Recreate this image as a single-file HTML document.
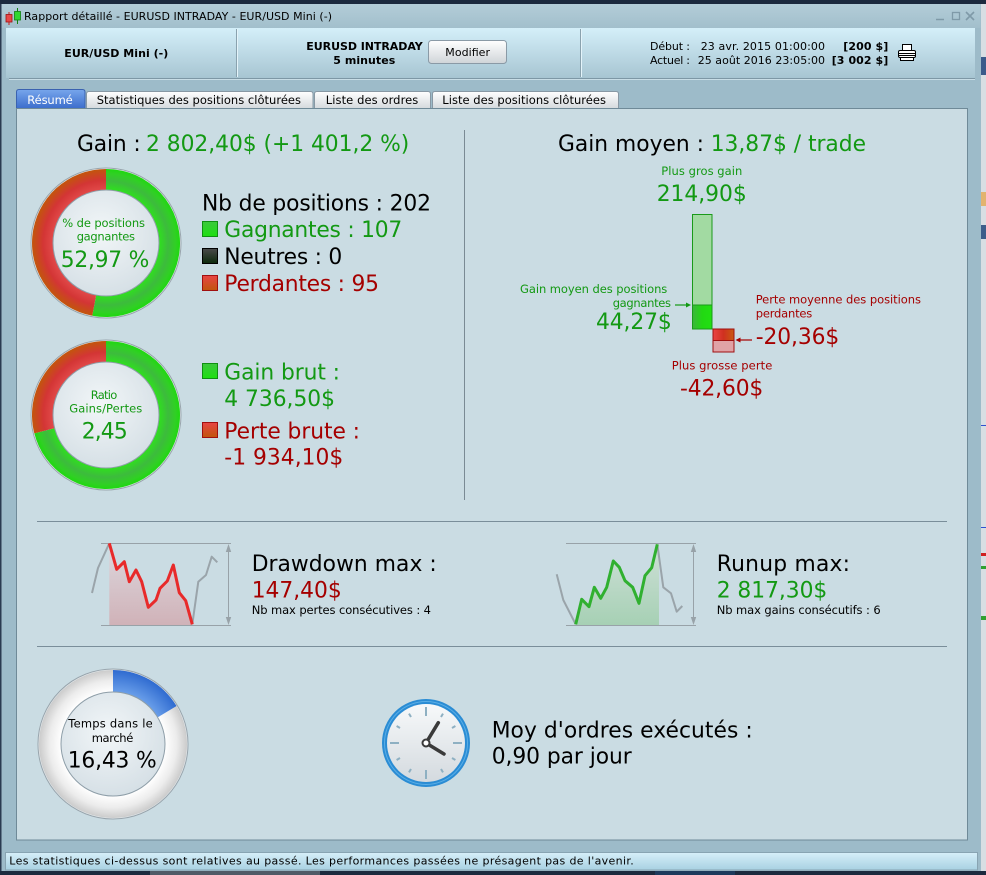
<!DOCTYPE html>
<html><head><meta charset="utf-8"><style>
html,body{margin:0;padding:0;background:#1c2a3e;overflow:hidden;}
svg{display:block;}
text{font-family:"DejaVu Sans","Liberation Sans",sans-serif;}
</style></head><body>
<svg width="986" height="875" viewBox="0 0 986 875" xmlns="http://www.w3.org/2000/svg">
<defs>
<linearGradient id="hdr" x1="0" y1="0" x2="0" y2="1"><stop offset="0" stop-color="#d4eff9"/><stop offset="1" stop-color="#a7c5d2"/></linearGradient>
<linearGradient id="ttl" x1="0" y1="0" x2="0" y2="1"><stop offset="0" stop-color="#b3cdd8"/><stop offset="1" stop-color="#a2bfcc"/></linearGradient>
<linearGradient id="stat" x1="0" y1="0" x2="0" y2="1"><stop offset="0" stop-color="#d6eff9"/><stop offset="1" stop-color="#a8d1e2"/></linearGradient>
<linearGradient id="tab" x1="0" y1="0" x2="0" y2="1"><stop offset="0" stop-color="#ffffff"/><stop offset="1" stop-color="#d3d8dc"/></linearGradient>
<linearGradient id="tabsel" x1="0" y1="0" x2="0" y2="1"><stop offset="0" stop-color="#77a6ec"/><stop offset="1" stop-color="#3a6bcb"/></linearGradient>
<linearGradient id="btn" x1="0" y1="0" x2="0" y2="1"><stop offset="0" stop-color="#ffffff"/><stop offset="1" stop-color="#cfd4d8"/></linearGradient>
<radialGradient id="gRing" cx="0" cy="0" r="74" gradientUnits="userSpaceOnUse"><stop offset="0.71" stop-color="#2ee21c"/><stop offset="0.84" stop-color="#3dbb3d"/><stop offset="0.94" stop-color="#30d024"/><stop offset="1" stop-color="#1fd810"/></radialGradient>
<radialGradient id="rRing" cx="0" cy="0" r="74" gradientUnits="userSpaceOnUse"><stop offset="0.71" stop-color="#e24a4a"/><stop offset="0.85" stop-color="#d33535"/><stop offset="1" stop-color="#c2560c"/></radialGradient>
<radialGradient id="wRing" cx="0" cy="0" r="74" gradientUnits="userSpaceOnUse"><stop offset="0.70" stop-color="#ffffff"/><stop offset="0.86" stop-color="#ececec"/><stop offset="1" stop-color="#cbcbcb"/></radialGradient>
<radialGradient id="bRing" cx="0" cy="0" r="74" gradientUnits="userSpaceOnUse"><stop offset="0.70" stop-color="#6a9fea"/><stop offset="1" stop-color="#2f6bd0"/></radialGradient>
<radialGradient id="disk" cx="0.45" cy="0.4" r="0.6"><stop offset="0" stop-color="#f2f6f8"/><stop offset="1" stop-color="#d6e0e6"/></radialGradient>
<linearGradient id="face" x1="0" y1="0" x2="0" y2="1"><stop offset="0" stop-color="#f7f9fa"/><stop offset="1" stop-color="#d4dadf"/></linearGradient>
<linearGradient id="ddFill" x1="0" y1="0" x2="0" y2="1"><stop offset="0" stop-color="#dcd8de"/><stop offset="1" stop-color="#d0b2b8"/></linearGradient>
<linearGradient id="ruFill" x1="0" y1="0" x2="0" y2="1"><stop offset="0" stop-color="#cfe0d8"/><stop offset="1" stop-color="#a6d0b4"/></linearGradient>
<linearGradient id="barG" x1="0" y1="0" x2="1" y2="0"><stop offset="0" stop-color="#3cb53c"/><stop offset="0.5" stop-color="#22d812"/><stop offset="1" stop-color="#22e011"/></linearGradient>
<linearGradient id="barR" x1="0" y1="0" x2="1" y2="0"><stop offset="0" stop-color="#ea4444"/><stop offset="0.5" stop-color="#d03020"/><stop offset="1" stop-color="#c85a10"/></linearGradient>
<linearGradient id="sqG" x1="0" y1="0" x2="0" y2="1"><stop offset="0" stop-color="#3cc83c"/><stop offset="1" stop-color="#1ee010"/></linearGradient>
<linearGradient id="sqN" x1="0" y1="0" x2="0" y2="1"><stop offset="0" stop-color="#4a4a4a"/><stop offset="1" stop-color="#0c2a0c"/></linearGradient>
<linearGradient id="sqR" x1="0" y1="0" x2="0" y2="1"><stop offset="0" stop-color="#e84444"/><stop offset="1" stop-color="#c0560c"/></linearGradient>
</defs>

<!-- background -->
<rect x="0" y="0" width="986" height="875" fill="#1c2a3e"/>
<rect x="981" y="4" width="5" height="867" fill="#d8dee3"/>
<rect x="981" y="57" width="5" height="18" fill="#3a5a8a"/>
<rect x="981" y="192" width="5" height="14" fill="#e2b36e"/>
<rect x="981" y="225" width="5" height="14" fill="#3d5d8a"/>
<rect x="981" y="425" width="5" height="1" fill="#3050d0"/>
<rect x="981" y="527" width="5" height="1" fill="#3050d0"/>
<rect x="981" y="553" width="5" height="3" fill="#d02020"/>
<rect x="981" y="566" width="5" height="3" fill="#30a030"/>
<rect x="981" y="616" width="5" height="4" fill="#30a030"/>

<!-- window -->
<rect x="1" y="4" width="980" height="867" fill="#9dbbc9"/>
<rect x="0" y="4" width="1.5" height="867" fill="#2a3a50"/>
<rect x="1.5" y="4" width="979" height="24" fill="url(#ttl)"/>
<!-- title icon -->
<line x1="9" y1="12" x2="9" y2="25" stroke="#c02020" stroke-width="1"/>
<rect x="6" y="14.5" width="6" height="7.5" fill="#e84848" stroke="#a01010" stroke-width="0.8"/>
<line x1="17.5" y1="8" x2="17.5" y2="24" stroke="#108010" stroke-width="1"/>
<rect x="14.5" y="11.5" width="6" height="8.5" fill="#30d830" stroke="#108010" stroke-width="0.8"/>
<text x="24" y="20" font-size="11" fill="#000" textLength="308" lengthAdjust="spacing">Rapport détaillé - EURUSD INTRADAY - EUR/USD Mini (-)</text>
<!-- window buttons -->
<line x1="936" y1="19.5" x2="944" y2="19.5" stroke="#7f9aa8" stroke-width="1.5"/>
<rect x="952.5" y="12.5" width="7" height="7" fill="none" stroke="#7f9aa8" stroke-width="1.3"/>
<path d="M966,12 L974,20 M974,12 L966,20" stroke="#7f9aa8" stroke-width="1.6"/>

<!-- header -->
<rect x="6" y="28" width="969" height="50" fill="url(#hdr)"/>
<line x1="236.5" y1="29" x2="236.5" y2="77" stroke="#8aa2ae"/>
<line x1="237.5" y1="29" x2="237.5" y2="77" stroke="#e4f4fa"/>
<line x1="580.5" y1="29" x2="580.5" y2="77" stroke="#8aa2ae"/>
<line x1="581.5" y1="29" x2="581.5" y2="77" stroke="#e4f4fa"/>
<line x1="9" y1="78.5" x2="975" y2="78.5" stroke="#7d97a5"/>
<line x1="9" y1="79.5" x2="975" y2="79.5" stroke="#c8dde6"/>
<text x="64.3" y="57" font-size="11" font-weight="bold" textLength="104" lengthAdjust="spacing">EUR/USD Mini (-)</text>
<text x="306.3" y="50" font-size="11" font-weight="bold" textLength="116.4" lengthAdjust="spacing">EURUSD INTRADAY</text>
<text x="333.3" y="64" font-size="11" font-weight="bold" textLength="62" lengthAdjust="spacing">5 minutes</text>
<rect x="428.5" y="40.5" width="78" height="23" rx="3" fill="url(#btn)" stroke="#8a9aa6"/>
<text x="445.3" y="56" font-size="11" textLength="44.7" lengthAdjust="spacing">Modifier</text>
<text x="650" y="50" font-size="11" textLength="40" lengthAdjust="spacing">Début :</text>
<text x="700.7" y="50" font-size="11" textLength="124.3" lengthAdjust="spacing">23 avr. 2015 01:00:00</text>
<text x="843.3" y="50" font-size="11" font-weight="bold" textLength="45" lengthAdjust="spacing">[200 $]</text>
<text x="650" y="64" font-size="11" textLength="40" lengthAdjust="spacing">Actuel :</text>
<text x="697.7" y="64" font-size="11" textLength="127.3" lengthAdjust="spacing">25 août 2016 23:05:00</text>
<text x="831.7" y="64" font-size="11" font-weight="bold" textLength="56.6" lengthAdjust="spacing">[3 002 $]</text>
<!-- printer -->
<rect x="902.5" y="44.5" width="9" height="6" fill="#fff" stroke="#000"/>
<rect x="898.5" y="50.5" width="17" height="7" rx="1.5" fill="#fff" stroke="#000"/>
<line x1="899" y1="53.5" x2="915" y2="53.5" stroke="#000"/>
<line x1="899" y1="55.5" x2="915" y2="55.5" stroke="#000"/>
<rect x="900.5" y="57.5" width="13" height="3" fill="#fff" stroke="#000"/>

<!-- tabs -->
<path d="M86.5,109 L86.5,94 Q86.5,91.5 89,91.5 L310.5,91.5 Q313,91.5 313,94 L313,109" fill="url(#tab)" stroke="#8898a4"/>
<path d="M314.5,109 L314.5,94 Q314.5,91.5 317,91.5 L428,91.5 Q430.5,91.5 430.5,94 L430.5,109" fill="url(#tab)" stroke="#8898a4"/>
<path d="M432.5,109 L432.5,94 Q432.5,91.5 435,91.5 L616,91.5 Q618.5,91.5 618.5,94 L618.5,109" fill="url(#tab)" stroke="#8898a4"/>
<path d="M16.5,109 L16.5,92 Q16.5,89.5 19,89.5 L82.5,89.5 Q85,89.5 85,92 L85,109" fill="url(#tabsel)" stroke="#3a62b0"/>
<text x="27.3" y="104" font-size="11.5" fill="#fff" textLength="45.4" lengthAdjust="spacing">Résumé</text>
<text x="96.7" y="104" font-size="11.5" textLength="204.3" lengthAdjust="spacing">Statistiques des positions clôturées</text>
<text x="325.7" y="104" font-size="11.5" textLength="92.6" lengthAdjust="spacing">Liste des ordres</text>
<text x="442.3" y="104" font-size="11.5" textLength="163.7" lengthAdjust="spacing">Liste des positions clôturées</text>

<!-- content panel -->
<rect x="16.5" y="108.5" width="951" height="731.5" fill="#cadce3" stroke="#6f8a98"/>
<line x1="464.5" y1="130" x2="464.5" y2="500" stroke="#7a8a94"/>
<line x1="37" y1="521.5" x2="947" y2="521.5" stroke="#7a8e9a"/>
<line x1="37" y1="646.5" x2="947" y2="646.5" stroke="#7a8e9a"/>

<!-- Gain headline -->
<text x="77" y="151" font-size="21.8" fill="#000" textLength="63.7" lengthAdjust="spacing">Gain :</text>
<text x="146" y="151" font-size="21.8" fill="#139913" textLength="263.3" lengthAdjust="spacing">2 802,40$ (+1 401,2 %)</text>

<!-- donut 1 -->
<g transform="translate(106,243)">
<circle r="75" fill="#e8eef1" stroke="#98a4ac"/>
<path d="M0,-74 A74,74 0 1 1 -13.74,72.71 L-9.84,52.08 A53,53 0 1 0 0,-53 Z" fill="url(#gRing)"/>
<path d="M-13.74,72.71 A74,74 0 0 1 0,-74 L0,-53 A53,53 0 0 0 -9.84,52.08 Z" fill="url(#rRing)"/>
<circle r="53" fill="url(#disk)" stroke="#8e9ea8"/>
</g>
<text x="62.3" y="227" font-size="11.5" fill="#139913" textLength="82.7" lengthAdjust="spacing">% de positions</text>
<text x="76.7" y="240.5" font-size="11.5" fill="#139913" textLength="58.3" lengthAdjust="spacing">gagnantes</text>
<text x="60.7" y="267" font-size="21.8" fill="#139913" textLength="88.6" lengthAdjust="spacing">52,97 %</text>

<!-- legend 1 -->
<text x="202" y="210.5" font-size="21.8" fill="#000" textLength="229" lengthAdjust="spacing">Nb de positions : 202</text>
<rect x="202.5" y="221.5" width="15" height="15" fill="url(#sqG)" stroke="#109010"/>
<text x="224.3" y="237" font-size="21.8" fill="#139913" textLength="178" lengthAdjust="spacing">Gagnantes : 107</text>
<rect x="202.5" y="248.5" width="15" height="15" fill="url(#sqN)" stroke="#000"/>
<text x="224.3" y="264" font-size="21.8" fill="#000" textLength="118" lengthAdjust="spacing">Neutres : 0</text>
<rect x="202.5" y="275.5" width="15" height="15" fill="url(#sqR)" stroke="#a01010"/>
<text x="224.3" y="291" font-size="21.8" fill="#a50000" textLength="154.7" lengthAdjust="spacing">Perdantes : 95</text>

<!-- donut 2 -->
<g transform="translate(106,415)">
<circle r="75" fill="#e8eef1" stroke="#98a4ac"/>
<path d="M0,-74 A74,74 0 1 1 -71.68,18.40 L-51.34,13.18 A53,53 0 1 0 0,-53 Z" fill="url(#gRing)"/>
<path d="M-71.68,18.40 A74,74 0 0 1 0,-74 L0,-53 A53,53 0 0 0 -51.34,13.18 Z" fill="url(#rRing)"/>
<circle r="53" fill="url(#disk)" stroke="#8e9ea8"/>
</g>
<text x="90.7" y="399" font-size="11.5" fill="#139913" textLength="26.6" lengthAdjust="spacing">Ratio</text>
<text x="69.3" y="412.5" font-size="11.5" fill="#139913" textLength="73" lengthAdjust="spacing">Gains/Pertes</text>
<text x="81.7" y="438.5" font-size="21.8" fill="#139913" textLength="46" lengthAdjust="spacing">2,45</text>

<rect x="202.5" y="363.5" width="15" height="15" fill="url(#sqG)" stroke="#109010"/>
<text x="224.3" y="379.5" font-size="21.8" fill="#139913" textLength="115.7" lengthAdjust="spacing">Gain brut :</text>
<text x="224.3" y="406" font-size="21.8" fill="#139913" textLength="110.7" lengthAdjust="spacing">4 736,50$</text>
<rect x="202.5" y="422.5" width="15" height="15" fill="url(#sqR)" stroke="#a01010"/>
<text x="224.3" y="438.5" font-size="21.8" fill="#a50000" textLength="135.7" lengthAdjust="spacing">Perte brute :</text>
<text x="224.3" y="464.5" font-size="21.8" fill="#a50000" textLength="119" lengthAdjust="spacing">-1 934,10$</text>

<!-- Gain moyen -->
<text x="558" y="151" font-size="21.8" fill="#000" textLength="146" lengthAdjust="spacing">Gain moyen :</text>
<text x="710.7" y="151" font-size="21.8" fill="#139913" textLength="155.3" lengthAdjust="spacing">13,87$ / trade</text>
<text x="661.3" y="175" font-size="11.5" fill="#139913" textLength="81" lengthAdjust="spacing">Plus gros gain</text>
<text x="656.7" y="201" font-size="21.8" fill="#139913" textLength="90" lengthAdjust="spacing">214,90$</text>

<rect x="692.5" y="214.5" width="19.5" height="90.5" fill="#a2daa2" stroke="#1a9a1a"/>
<rect x="692.5" y="305" width="19.5" height="24" fill="url(#barG)" stroke="#1a9a1a"/>
<rect x="713" y="329" width="21" height="11.5" fill="url(#barR)" stroke="#a01010"/>
<rect x="713" y="340.5" width="21" height="11.5" fill="#e0a2a6" stroke="#a01010"/>

<text x="520" y="293" font-size="11.5" fill="#139913" textLength="147.3" lengthAdjust="spacing">Gain moyen des positions</text>
<text x="612.7" y="307" font-size="11.5" fill="#139913" textLength="58.3" lengthAdjust="spacing">gagnantes</text>
<line x1="675" y1="305" x2="688" y2="305" stroke="#139913" stroke-width="1.2"/>
<path d="M691,305 L686,302.5 L686,307.5 Z" fill="#139913"/>
<text x="596" y="329" font-size="21.8" fill="#139913" textLength="75.7" lengthAdjust="spacing">44,27$</text>

<text x="755.7" y="303.5" font-size="11.5" fill="#a50000" textLength="165.3" lengthAdjust="spacing">Perte moyenne des positions</text>
<text x="755.7" y="317.5" font-size="11.5" fill="#a50000" textLength="56.6" lengthAdjust="spacing">perdantes</text>
<line x1="739" y1="340" x2="752" y2="340" stroke="#a50000" stroke-width="1.2"/>
<path d="M735.5,340 L740.5,337.5 L740.5,342.5 Z" fill="#a50000"/>
<text x="755.7" y="344" font-size="21.8" fill="#a50000" textLength="83.6" lengthAdjust="spacing">-20,36$</text>

<text x="671.7" y="369.5" font-size="11.5" fill="#a50000" textLength="100.6" lengthAdjust="spacing">Plus grosse perte</text>
<text x="680" y="395.5" font-size="21.8" fill="#a50000" textLength="83.3" lengthAdjust="spacing">-42,60$</text>

<!-- drawdown chart -->
<polygon points="109.3,543.3 116.7,569.3 124.3,561.7 129.3,581.7 136,570 141.7,581.7 148.3,607.3 156,600 160,588.3 167.3,581 173.3,565 179.3,592.7 185.7,600.7 192.3,624.3 192.3,625.3 109.3,625.3" fill="url(#ddFill)"/>
<line x1="101" y1="543.5" x2="231" y2="543.5" stroke="#98a2a8"/>
<line x1="101" y1="625.5" x2="231" y2="625.5" stroke="#98a2a8"/>
<line x1="228.5" y1="548" x2="228.5" y2="621" stroke="#98a2a8"/>
<path d="M228.5,544 L225.8,552 L231.2,552 Z M228.5,625 L225.8,617 L231.2,617 Z" fill="#98a2a8"/>
<polyline points="92,593 98,568 109.3,543.3" fill="none" stroke="#9aa4aa" stroke-width="2" stroke-linejoin="round"/>
<polyline points="192.3,624.3 198.3,581.7 206,575 211.7,556.7 217.3,562.3" fill="none" stroke="#9aa4aa" stroke-width="2" stroke-linejoin="round"/>
<polyline points="109.3,543.3 116.7,569.3 124.3,561.7 129.3,581.7 136,570 141.7,581.7 148.3,607.3 156,600 160,588.3 167.3,581 173.3,565 179.3,592.7 185.7,600.7 192.3,624.3" fill="none" stroke="#e82a2a" stroke-width="3" stroke-linejoin="round"/>
<text x="251.7" y="571" font-size="21.8" fill="#000" textLength="185" lengthAdjust="spacing">Drawdown max :</text>
<text x="251.7" y="597.3" font-size="21.8" fill="#a50000" textLength="90" lengthAdjust="spacing">147,40$</text>
<text x="251.7" y="614" font-size="11.5" fill="#000" textLength="179.3" lengthAdjust="spacing">Nb max pertes consécutives : 4</text>

<!-- runup chart -->
<polygon points="575.7,624.3 581.7,599.3 589,606.7 594.3,587.3 600.7,598.3 606.7,587.3 613.3,561 619.3,567.3 625,580.7 632.7,587.3 639,603.3 645,575.7 651.7,567.7 657.3,544.3 659,544.3 659,625.3 575.7,625.3" fill="url(#ruFill)"/>
<line x1="566" y1="543.5" x2="696" y2="543.5" stroke="#98a2a8"/>
<line x1="566" y1="625.5" x2="696" y2="625.5" stroke="#98a2a8"/>
<line x1="693.5" y1="548" x2="693.5" y2="621" stroke="#98a2a8"/>
<path d="M693.5,544 L690.8,552 L696.2,552 Z M693.5,625 L690.8,617 L696.2,617 Z" fill="#98a2a8"/>
<polyline points="556.7,574.3 563.3,600 575.7,624.3" fill="none" stroke="#9aa4aa" stroke-width="2" stroke-linejoin="round"/>
<polyline points="657.3,544.3 663.3,587.3 671,593.3 676.7,611.7 682.3,606" fill="none" stroke="#9aa4aa" stroke-width="2" stroke-linejoin="round"/>
<polyline points="575.7,624.3 581.7,599.3 589,606.7 594.3,587.3 600.7,598.3 606.7,587.3 613.3,561 619.3,567.3 625,580.7 632.7,587.3 639,603.3 645,575.7 651.7,567.7 657.3,544.3" fill="none" stroke="#30b030" stroke-width="3" stroke-linejoin="round"/>
<text x="716.7" y="571" font-size="21.8" fill="#000" textLength="133.3" lengthAdjust="spacing">Runup max:</text>
<text x="716.7" y="597.3" font-size="21.8" fill="#139913" textLength="110.6" lengthAdjust="spacing">2 817,30$</text>
<text x="716.7" y="614" font-size="11.5" fill="#000" textLength="164" lengthAdjust="spacing">Nb max gains consécutifs : 6</text>

<!-- donut 3 -->
<g transform="translate(113,744)">
<circle r="75" fill="#e8eef1" stroke="#98a4ac"/>
<circle r="63" fill="none" stroke="url(#wRing)" stroke-width="22"/>
<path d="M0,-74 A74,74 0 0 1 63.53,-37.95 L44.64,-26.67 A52,52 0 0 0 0,-52 Z" fill="url(#bRing)"/>
<circle r="52" fill="url(#disk)" stroke="#8e9ea8"/>
</g>
<text x="68.3" y="727.5" font-size="11.5" fill="#000" textLength="84.4" lengthAdjust="spacing">Temps dans le</text>
<text x="91.7" y="742" font-size="11.5" fill="#000" textLength="41.6" lengthAdjust="spacing">marché</text>
<text x="67.7" y="767.5" font-size="21.8" fill="#000" textLength="89" lengthAdjust="spacing">16,43 %</text>

<!-- clock -->
<g transform="translate(426,743)">
<circle r="44" fill="#2a8cd4"/>
<circle r="41.5" fill="none" stroke="#5aaee6" stroke-width="1"/>
<circle r="39" fill="url(#face)"/>
<g stroke="#8eb0c2" stroke-width="2" stroke-linecap="butt">
<line x1="0" y1="-36" x2="0" y2="-27"/>
<line x1="0" y1="36" x2="0" y2="27"/>
<line x1="36" y1="0" x2="27" y2="0"/>
<line x1="-36" y1="0" x2="-27" y2="0"/>
<line x1="17" y1="-29.4" x2="15" y2="-26"/>
<line x1="29.4" y1="-17" x2="26" y2="-15"/>
<line x1="29.4" y1="17" x2="26" y2="15"/>
<line x1="17" y1="29.4" x2="15" y2="26"/>
<line x1="-17" y1="29.4" x2="-15" y2="26"/>
<line x1="-29.4" y1="17" x2="-26" y2="15"/>
<line x1="-29.4" y1="-17" x2="-26" y2="-15"/>
<line x1="-17" y1="-29.4" x2="-15" y2="-26"/>
</g>
<line x1="0" y1="0" x2="18" y2="11" stroke="#3a3a3a" stroke-width="3.5" stroke-linecap="round"/>
<line x1="0" y1="0" x2="12.3" y2="-20.3" stroke="#3a3a3a" stroke-width="3.5" stroke-linecap="round"/>
<circle r="3.5" fill="#fff" stroke="#3a3a3a" stroke-width="2"/>
</g>
<text x="491.7" y="737.5" font-size="21.8" fill="#000" textLength="261" lengthAdjust="spacing">Moy d'ordres exécutés :</text>
<text x="491.7" y="763.5" font-size="21.8" fill="#000" textLength="140" lengthAdjust="spacing">0,90 par jour</text>

<!-- status bar -->
<rect x="5.5" y="852.5" width="972" height="17.5" fill="url(#stat)" stroke="#88a4b2"/>
<text x="9.3" y="864.5" font-size="11" fill="#000" textLength="624.5" lengthAdjust="spacing">Les statistiques ci-dessus sont relatives au passé. Les performances passées ne présagent pas de l'avenir.</text>
<rect x="0" y="871" width="986" height="4" fill="#1c2a3e"/>
<rect x="150" y="871" width="170" height="4" fill="#505a66"/>
<rect x="655" y="871" width="80" height="4" fill="#1d3a5c"/>
</svg>
</body></html>
